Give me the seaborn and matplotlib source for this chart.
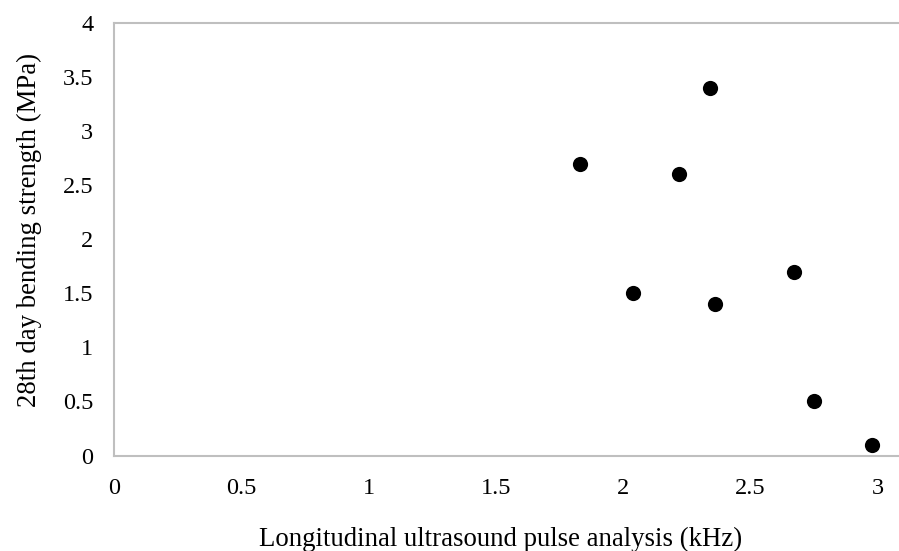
import matplotlib
matplotlib.use("Agg")
import matplotlib.pyplot as plt
import seaborn as sns
import pandas as pd

# Longitudinal ultrasound pulse frequency vs. 28-day bending strength
pulse_khz = [1.83, 2.04, 2.22, 2.34, 2.36, 2.67, 2.75, 2.98]
strength_mpa = [2.7, 1.5, 2.6, 3.4, 1.4, 1.7, 0.5, 0.1]
x_ticks = [0, 0.5, 1, 1.5, 2, 2.5, 3]
y_ticks = [0, 0.5, 1, 1.5, 2, 2.5, 3, 3.5, 4]

df = pd.DataFrame({"pulse": pulse_khz, "strength": strength_mpa})

sns.set_theme(style="white")
plt.rcParams["font.family"] = ["Liberation Serif", "DejaVu Serif"]

fig = plt.figure(figsize=(8.99, 5.51), dpi=100)
ax = fig.add_axes([114 / 899, 1 - 455.5 / 551, 1 - 114 / 899, (455.5 - 23) / 551])

sns.scatterplot(data=df, x="pulse", y="strength", ax=ax, s=120,
                color="black", edgecolor="black", linewidth=0, zorder=3)

ax.set_xlim(0, (899 - 114) / 254.5)
ax.set_ylim(0, 4)
ax.set_xticks(x_ticks)
ax.set_xticklabels([f"{v:g}" for v in x_ticks])
ax.set_yticks(y_ticks)
ax.set_yticklabels([f"{v:g}" for v in y_ticks])
ax.tick_params(axis="both", length=0, labelsize=17.5, colors="black")
ax.tick_params(axis="x", pad=16)
ax.tick_params(axis="y", pad=15)

for side in ["left", "bottom", "top"]:
    ax.spines[side].set_visible(True)
    ax.spines[side].set_color("#BFBFBF")
    ax.spines[side].set_linewidth(1.5)
ax.spines["right"].set_visible(False)

ax.set_xlabel("Longitudinal ultrasound pulse analysis (kHz)", fontsize=19.3, labelpad=20, color="black")
ax.set_ylabel("28th day bending strength (MPa)", fontsize=19.3, labelpad=15, color="black")
ax.xaxis.label.set_x(0.492)
ax.yaxis.label.set_y(0.521)

fig.savefig("out.png", dpi=100)
